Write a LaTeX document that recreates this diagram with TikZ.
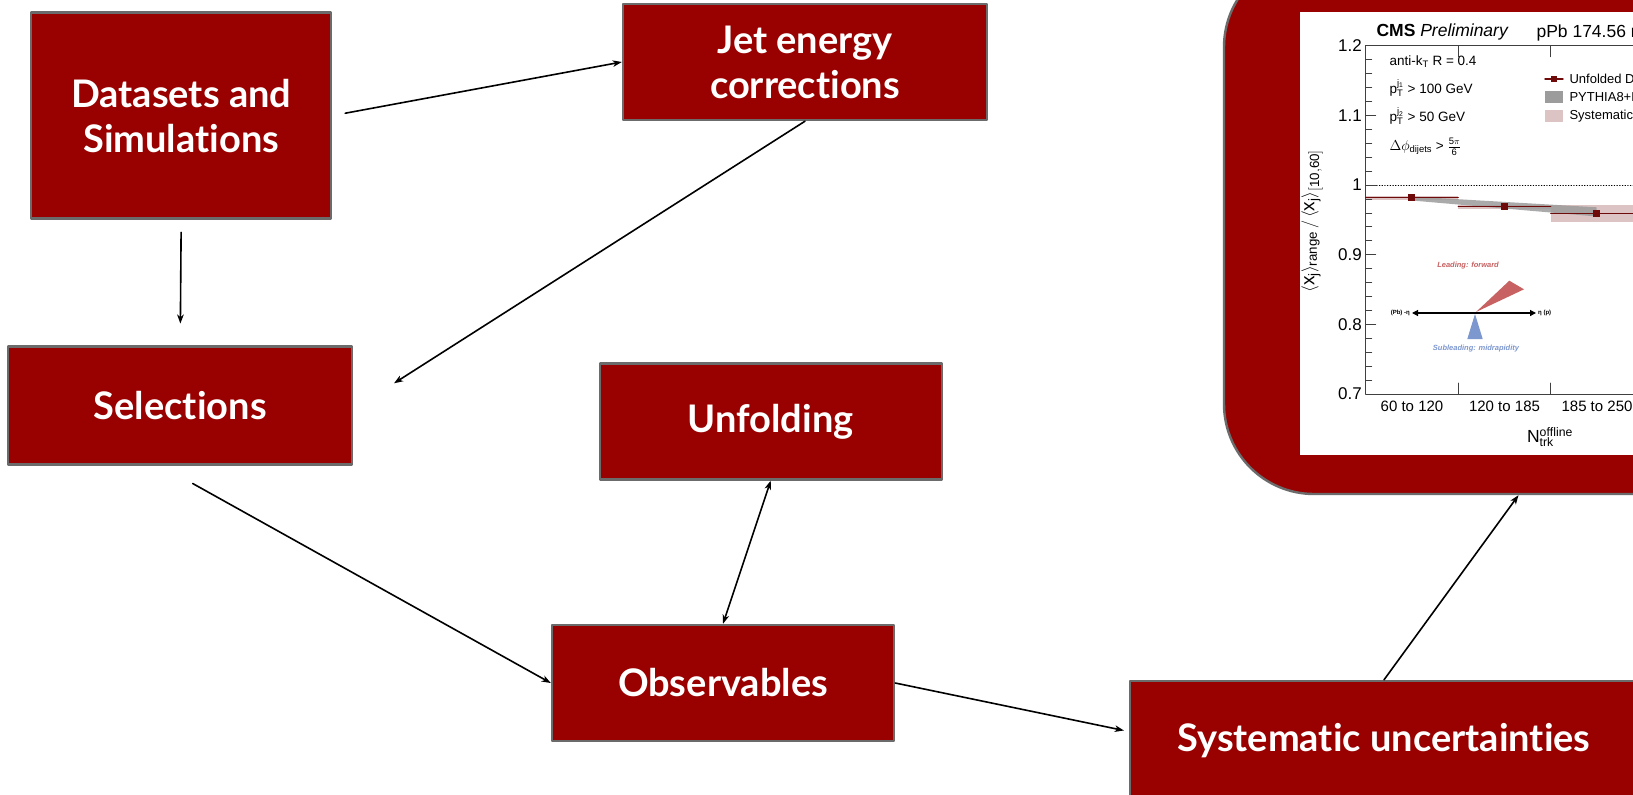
\documentclass[tikz,border=0pt]{standalone}
\usepackage{fontspec}
\setmainfont{Lato}[Ligatures=NoCommon]
\setsansfont{Liberation Sans}
\usetikzlibrary{arrows.meta,positioning}
\definecolor{flowRed}{HTML}{990000}
\definecolor{flowEdge}{HTML}{6B6B6B}
\definecolor{plotData}{HTML}{6E0A0A}
\definecolor{plotSyst}{HTML}{DDC4C4}
\definecolor{plotBand}{HTML}{9C9C9C}
\definecolor{insetRed}{HTML}{C86262}
\definecolor{insetBlue}{HTML}{7D97CF}

\begin{document}
\begin{tikzpicture}[x=1pt,y=-1pt,>={Stealth[length=9pt,width=6.5pt,inset=2.5pt]},line cap=round,line join=round]
\useasboundingbox (0,0) rectangle (1633,795);
\clip (0,0) rectangle (1633,795);
\path[fill=white] (0,0) rectangle (1633,795);
\tikzset{flowbox/.style={draw=flowEdge,fill=flowRed,line width=2.4pt,text=white,font=\bfseries\fontsize{38}{45}\selectfont,align=center,inner sep=0pt},link/.style={draw=black,line width=1.6pt},axisline/.style={draw=black!75,line width=0.8pt},plotlabel/.style={font=\sffamily\fontsize{15}{18}\selectfont},cuttext/.style={anchor=west,font=\sffamily\fontsize{13.5}{16}\selectfont},insettext/.style={font=\sffamily\bfseries\itshape\fontsize{7.5}{9}\selectfont}}
\node[flowbox,minimum width=300pt,minimum height=206pt] (dat) at (181.2,115.6) {Datasets and\\Simulations};
\node[flowbox,minimum width=364pt,minimum height=116pt] (jet) at (805,62) {Jet energy\\corrections};
\node[flowbox,minimum width=344pt,minimum height=118pt] (sel) at (180.2,405.6) {Selections};
\node[flowbox,minimum width=342pt,minimum height=116pt] (unf) at (770.7,421.5) {Unfolding};
\node[flowbox,minimum width=342pt,minimum height=116pt] (obs) at (723,683) {Observables};
\node[flowbox,minimum width=508pt,minimum height=119pt] (sys) at (1384,740.5) {Systematic uncertainties};
\node[draw=flowEdge,fill=flowRed,line width=2.4pt,rounded corners=90pt,minimum width=589pt,minimum height=537pt] (panel) at (1518.5,225.5) {};
\path[fill=white] (1300,12) rectangle (1700,455);
\node[anchor=west,font=\sffamily\fontsize{17.5}{20}\selectfont] (cms) at (1373,32) {{\bfseries CMS} \itshape Preliminary};
\node[anchor=west,font=\sffamily\fontsize{17.5}{20}\selectfont] (lumi) at (1533,32) {pPb 174.56 nb$^{-1}$};
\fill[plotSyst] (1365.7,196) rectangle (1458.2,200); \fill[plotSyst] (1458.2,205.3) rectangle (1550.7,208.7); \fill[plotSyst] (1550.7,205) rectangle (1700,221.7);
\fill[plotBand,opacity=0.85] (1411.7,196.5) -- (1596.7,207.3) -- (1596.7,216.5) -- (1411.7,200.5) -- cycle;
\draw[dotted,line width=0.7pt] (1365.7,185) -- (1700,185);
\draw[axisline] (1365.7,394) -- (1365.7,45.7) -- (1700,45.7); \draw[axisline] (1365.7,394) -- (1700,394);
\foreach \k in {1,...,24} \draw[axisline] (1365.7,{394-13.93*\k}) -- ++(6,0);
\foreach \k/\lab in {0/0.7,5/0.8,10/0.9,15/1,20/1.1,25/1.2} {\draw[axisline] (1365.7,{394-13.93*\k}) -- ++(10,0); \node[plotlabel,anchor=east,inner sep=1pt,font=\sffamily\fontsize{17}{19}\selectfont] (yl\k) at (1363,{394-13.93*\k}) {\lab};}
\foreach \bx in {1458.2,1550.7} {\draw[axisline] (\bx,394) -- ++(0,-11); \draw[axisline] (\bx,45.7) -- ++(0,11);}
\foreach \i/\lab in {0/60 to 120,1/120 to 185,2/185 to 250} \node[plotlabel] (xl\i) at ({1412+92.5*\i},406) {\lab};
\node[plotlabel,font=\sffamily\fontsize{17.5}{20}\selectfont] (xtitle) at (1550,437) {N$_{\mathsf{trk}}^{\mathsf{offline}}$};
\node[plotlabel,rotate=90,font=\sffamily\fontsize{19}{22}\selectfont] (ytitle) at (1312,221) {$\langle\mathbf{\mathsf{x}}_{\mathsf{j}}\rangle_{\mathsf{range}}\,/\,\langle\mathbf{\mathsf{x}}_{\mathsf{j}}\rangle_{\mathsf{[10,60]}}$};
\draw[plotData,line width=1.4pt] (1365.7,197.7) -- (1458.2,197.7); \draw[plotData,line width=1.4pt] (1458.2,206.7) -- (1550.7,206.7); \draw[plotData,line width=1.4pt] (1550.7,213.3) -- (1700,213.3);
\foreach \px/\py in {1411.7/197.7,1504.3/206.7,1596.7/213.3} \fill[plotData] (\px,\py) ++(-3.7,-3.7) rectangle ++(7.4,7.4);
\node[cuttext] (cut1) at (1386,62) {anti-k$_{\mathsf{T}}$ R = 0.4};
\node[cuttext] (cut2) at (1386,88) {p$_{\mathsf{T}}^{\mathsf{j}_{\mathsf{1}}}$ > 100 GeV};
\node[cuttext] (cut3) at (1386,116) {p$_{\mathsf{T}}^{\mathsf{j}_{\mathsf{2}}}$ > 50 GeV};
\node[cuttext] (cut4) at (1386,147) {$\Delta\phi_{\mathsf{dijets}}$ > $\frac{\mathsf{5}\pi}{\mathsf{6}}$};
\draw[plotData,line width=1.4pt] (1545,79) -- (1563,79); \fill[plotData] (1550.5,76) rectangle (1556.5,82); \fill[plotBand] (1545,91) rectangle (1563,103); \fill[plotSyst] (1545,110) rectangle (1563,122);
\node[cuttext,font=\sffamily\fontsize{13}{16}\selectfont] (leg1) at (1566,79) {Unfolded Data};
\node[cuttext,font=\sffamily\fontsize{13}{16}\selectfont] (leg2) at (1566,97) {PYTHIA8+EPPS16};
\node[cuttext,font=\sffamily\fontsize{13}{16}\selectfont] (leg3) at (1566,116) {Systematic uncertainty};
\fill[insetRed] (1476,312) -- (1509.3,280.7) -- (1524,289.3) -- cycle; \fill[insetBlue] (1475,314) -- (1467.3,339) -- (1482.7,339) -- cycle;
\node[anchor=east,inner sep=2pt,font=\sffamily\bfseries\fontsize{6}{7}\selectfont] (pb) at (1412,313) {(Pb) -η};
\node[anchor=west,inner sep=2pt,font=\sffamily\bfseries\fontsize{6}{7}\selectfont] (pp) at (1536,313) {η (p)};
\draw[line width=1.2pt,{Triangle[length=6pt,width=6pt]}-{Triangle[length=6pt,width=6pt]}] (pb.east) -- (pp.west);
\node[insettext,text=insetRed] (lead) at (1468,266) {Leading: forward};
\node[insettext,text=insetBlue] (sublead) at (1476,348.3) {Subleading: midrapidity};
\draw[link,->,shorten <=13pt] (dat.east) -- (jet.west);
\draw[link,->,shorten <=12.5pt,shorten >=21.8pt] (dat.south) -- (sel.north);
\coordinate (selIn) at ([shift={(40.6,-22.3)}]sel.east);
\draw[link,->] (jet.south) -- (selIn);
\coordinate (selOut) at ([shift={(12.5,17.7)}]sel.south);
\draw[link,->] (selOut) -- (obs.west);
\draw[link,<->] (obs.north) -- (unf.south);
\draw[link,->,shorten >=5pt] (obs.east) -- ([shift={(0,-9)}]sys.west);
\draw[link,->] (sys.north) -- (panel.south);
\end{tikzpicture}
\end{document}
